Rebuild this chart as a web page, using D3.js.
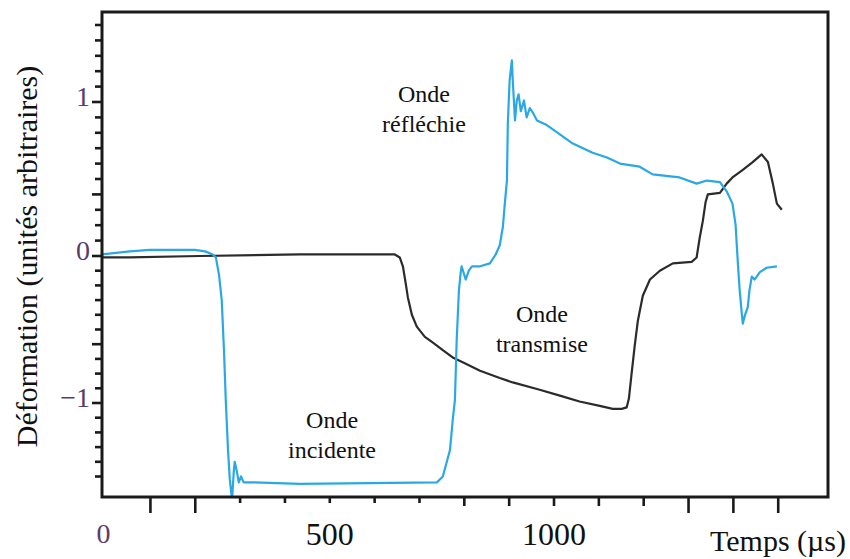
<!DOCTYPE html>
<html>
<head>
<meta charset="utf-8">
<script src="https://cdn.jsdelivr.net/npm/d3@7"></script>
<style>
  html, body { margin: 0; padding: 0; background: #fff; }
  svg { display: block; }
  text { font-family: "Liberation Serif", "Times New Roman", serif; fill: #111; }
</style>
</head>
<body>
<svg id="chart" width="850" height="559"></svg>
<script>
// ---- Data (time in µs, deformation in arbitrary units) ----
const blueTime = [-8, 54, 99, 199, 222, 239, 246, 253, 259, 264, 268, 273, 277, 282, 286, 288, 293, 297, 302, 308, 329, 433, 739, 752, 761, 768, 774, 779, 783, 788, 792, 794, 803, 810, 817, 835, 857, 870, 879, 886, 890, 895, 897, 901, 906, 908, 913, 917, 921, 926, 933, 939, 946, 953, 962, 984, 1013, 1042, 1086, 1118, 1147, 1191, 1220, 1280, 1318, 1341, 1370, 1385, 1398, 1405, 1410, 1414, 1419, 1421, 1426, 1432, 1436, 1441, 1447, 1452, 1459, 1474, 1497];
const blueValue = [0.01, 0.03, 0.04, 0.04, 0.03, 0.01, -0.01, -0.13, -0.30, -0.64, -0.98, -1.32, -1.52, -1.66, -1.46, -1.40, -1.47, -1.54, -1.50, -1.54, -1.54, -1.55, -1.54, -1.50, -1.40, -1.32, -1.12, -0.98, -0.57, -0.23, -0.11, -0.07, -0.16, -0.10, -0.07, -0.07, -0.05, 0.01, 0.07, 0.19, 0.33, 0.49, 0.86, 1.14, 1.27, 1.14, 0.88, 1.01, 1.05, 0.94, 1.01, 0.90, 0.96, 0.93, 0.88, 0.85, 0.79, 0.73, 0.67, 0.64, 0.60, 0.58, 0.53, 0.51, 0.47, 0.49, 0.48, 0.42, 0.34, 0.20, -0.05, -0.23, -0.40, -0.46, -0.40, -0.35, -0.23, -0.14, -0.16, -0.14, -0.11, -0.08, -0.07];

const blackTime = [-8, 54, 210, 433, 612, 645, 656, 663, 670, 674, 683, 694, 712, 730, 752, 774, 801, 835, 879, 908, 968, 1013, 1057, 1102, 1131, 1151, 1162, 1167, 1173, 1180, 1187, 1198, 1214, 1236, 1265, 1307, 1318, 1325, 1332, 1338, 1343, 1370, 1385, 1398, 1421, 1443, 1463, 1477, 1488, 1497, 1508];
const blackValue = [-0.01, -0.01, 0.00, 0.01, 0.01, 0.01, -0.01, -0.07, -0.20, -0.28, -0.40, -0.48, -0.55, -0.59, -0.64, -0.69, -0.73, -0.78, -0.83, -0.86, -0.91, -0.95, -0.99, -1.02, -1.04, -1.04, -1.03, -0.97, -0.80, -0.61, -0.44, -0.27, -0.16, -0.10, -0.05, -0.04, -0.01, 0.12, 0.23, 0.35, 0.40, 0.41, 0.47, 0.51, 0.56, 0.61, 0.66, 0.61, 0.47, 0.34, 0.30];

const xTickValues = [100, 200, 300, 400, 500, 600, 700, 800, 900, 1000, 1100, 1200, 1300, 1400, 1500];
const xTickLabels = [{ t: 0, label: "0" }, { t: 500, label: "500" }, { t: 1000, label: "1000" }];
const yTickValues = d3.range(-15, 16).map(k => k / 10);
const yTickLabels = [{ v: 1, label: "1" }, { v: 0, label: "0" }, { v: -1, label: "\u22121" }];

const annotations = [
  { t: 710, v: 1.00, lines: ["Onde", "réfléchie"] },
  { t: 973, v: -0.45, lines: ["Onde", "transmise"] },
  { t: 505, v: -1.17, lines: ["Onde", "incidente"] }
];

const xTitle = "Temps (µs)";
const yTitle = "Déformation (unités arbitraires)";

// ---- Layout ----
const svg = d3.select("#chart");
const frame = { left: 102, right: 828, top: 12, bottom: 497 };

const x = d3.scaleLinear().domain([-8, 1611]).range([frame.left, frame.right]);
const y = d3.scaleLinear().domain([-1, 0, 1]).range([403, 256, 102]);
const yMin = y.invert(frame.bottom), yMax = y.invert(frame.top);

svg.append("defs").append("clipPath").attr("id", "clip")
  .append("rect")
  .attr("x", frame.left).attr("y", frame.top)
  .attr("width", frame.right - frame.left).attr("height", frame.bottom - frame.top);

// ---- Curves ----
const line = d3.line().x(d => x(d[0])).y(d => y(d[1])).curve(d3.curveLinear);
const blueData = blueTime.map((t, i) => [t, blueValue[i]]);
const blackData = blackTime.map((t, i) => [t, blackValue[i]]);

const plot = svg.append("g").attr("clip-path", "url(#clip)");
plot.append("path").datum(blackData)
  .attr("d", line).attr("fill", "none")
  .attr("stroke", "#2b2b2b").attr("stroke-width", 2.2)
  .attr("stroke-linejoin", "round");
plot.append("path").datum(blueData)
  .attr("d", line).attr("fill", "none")
  .attr("stroke", "#2aa8e6").attr("stroke-width", 2.2)
  .attr("stroke-linejoin", "round");

// ---- Axes (ticks outward) ----
function xTickLen(t) {
  if (t <= 200 || t >= 1300) return 16;
  if (t >= 800) return 9;
  return 6;
}
const xAxisG = svg.append("g").attr("transform", `translate(0,${frame.bottom})`);
xAxisG.selectAll("line.tick").data(xTickValues).join("line")
  .attr("class", "tick")
  .attr("x1", d => x(d)).attr("x2", d => x(d))
  .attr("y1", 0).attr("y2", d => xTickLen(d))
  .attr("stroke", "#1a1a1a").attr("stroke-width", 2.6);

function yTickLen(v) {
  const r = Math.round(v * 10);
  if (r === 10 || r === 0 || r === -10 || r === 4 || r === -6) return 10;
  return 7;
}
const yAxisG = svg.append("g").attr("transform", `translate(${frame.left},0)`);
yAxisG.selectAll("line.tick").data(yTickValues.filter(v => v >= yMin && v <= yMax)).join("line")
  .attr("class", "tick")
  .attr("x1", 0).attr("x2", d => -yTickLen(d))
  .attr("y1", d => y(d)).attr("y2", d => y(d))
  .attr("stroke", "#1a1a1a").attr("stroke-width", 2.6);

// frame
svg.append("rect")
  .attr("x", frame.left).attr("y", frame.top)
  .attr("width", frame.right - frame.left).attr("height", frame.bottom - frame.top)
  .attr("fill", "none").attr("stroke", "#1a1a1a").attr("stroke-width", 3);

// tick labels
svg.selectAll("text.xlab").data(xTickLabels).join("text")
  .attr("class", "xlab")
  .attr("x", d => x(d.t) - (d.t === 0 ? 2 : 0))
  .attr("y", d => d.t === 0 ? 543 : 545)
  .attr("text-anchor", "middle")
  .style("font-size", d => d.t === 0 ? "28px" : "32px")
  .style("fill", d => d.t === 0 ? "#5a3d6e" : "#111")
  .text(d => d.label);

svg.selectAll("text.ylab").data(yTickLabels).join("text")
  .attr("class", "ylab")
  .attr("x", 90)
  .attr("y", d => y(d.v) + 4)
  .attr("text-anchor", "end")
  .style("font-size", "28px")
  .style("fill", "#5a3d6e")
  .text(d => d.label);

// axis titles
svg.append("text")
  .attr("x", 710).attr("y", 551)
  .style("font-size", "30px")
  .text(xTitle);

svg.append("text")
  .attr("transform", `translate(37,${(frame.top + frame.bottom) / 2 + 2}) rotate(-90)`)
  .attr("text-anchor", "middle")
  .style("font-size", "30px")
  .text(yTitle);

// annotations
annotations.forEach(a => {
  const g = svg.append("text")
    .attr("text-anchor", "middle")
    .style("font-size", "24px");
  a.lines.forEach((s, i) => {
    g.append("tspan")
      .attr("x", x(a.t))
      .attr("y", y(a.v) + i * 30)
      .text(s);
  });
});
</script>
</body>
</html>
